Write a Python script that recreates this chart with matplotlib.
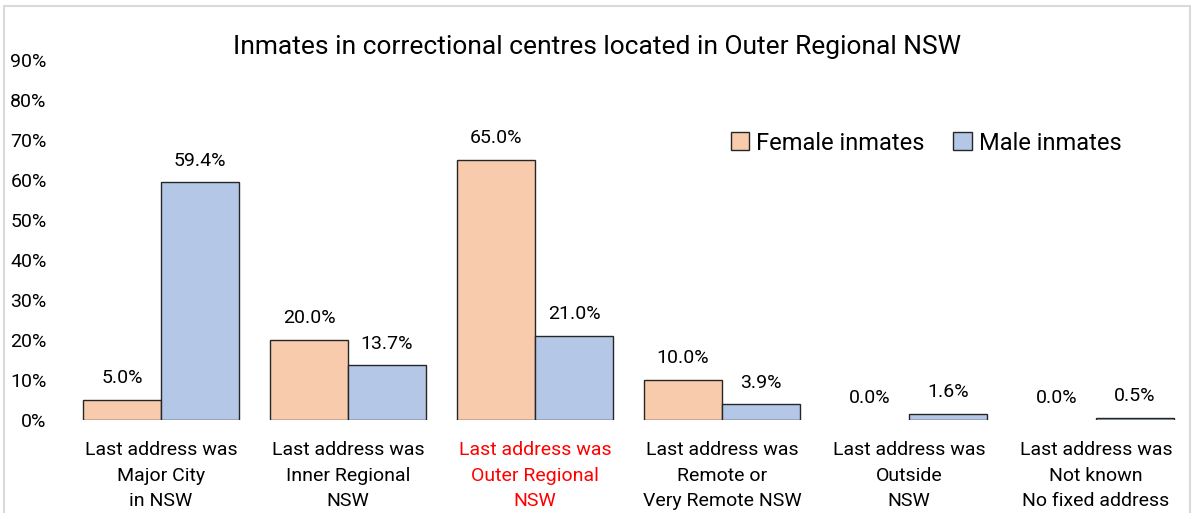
import matplotlib.pyplot as plt
import matplotlib.patches as mpatches
import numpy as np

categories = ['Last address was\nMajor City\nin NSW',
              'Last address was\nInner Regional\nNSW',
              'Last address was\nOuter Regional\nNSW',
              'Last address was\nRemote or\nVery Remote NSW',
              'Last address was\nOutside\nNSW',
              'Last address was\nNot known\nNo fixed address']
female = [0.050, 0.200, 0.650, 0.100, 0.000, 0.000]
male = [0.594, 0.137, 0.210, 0.039, 0.016, 0.005]
yticks = [0, 0.1, 0.2, 0.3, 0.4, 0.5, 0.6, 0.7, 0.8, 0.9]

plt.rcParams['font.family'] = ['Roboto', 'DejaVu Sans']

fig = plt.figure(figsize=(11.92, 5.13), dpi=100)
ax = fig.add_axes([0.0566, 0.1813, 0.9413, 0.7018])

x = np.arange(len(categories))
w = 0.417
b1 = ax.bar(x - w / 2, female, w, color='#F8CBAD', edgecolor='#262626', linewidth=1, label='Female inmates')
b2 = ax.bar(x + w / 2, male, w, color='#B4C7E7', edgecolor='#262626', linewidth=1, label='Male inmates')

for bars, vals in ((b1, female), (b2, male)):
    for rect, v in zip(bars, vals):
        if v == 0:
            rect.set_linewidth(0)
        ax.annotate(f'{v * 100:.1f}%', (rect.get_x() + rect.get_width() / 2, v),
                    xytext=(0, 9), textcoords='offset points',
                    ha='center', va='bottom', fontsize=14)

ax.set_xlim(-0.5, len(categories) - 0.5)
ax.set_ylim(0, 0.9)
ax.set_yticks(yticks)
ax.set_yticklabels([f'{int(round(t * 100))}%' for t in yticks], fontsize=14)
ax.set_xticks(x)
ax.set_xticklabels(categories, fontsize=14, linespacing=1.55)
ax.get_xticklabels()[2].set_color('#FF0000')
ax.tick_params(length=0)
ax.tick_params(axis='y', pad=15)
ax.tick_params(axis='x', pad=15)
for s in ax.spines.values():
    s.set_visible(False)

ax.legend(loc='upper left', bbox_to_anchor=(0.572, 0.86), ncol=2, frameon=False,
          fontsize=17, handlelength=0.8, handleheight=0.8, handletextpad=0.3,
          columnspacing=1.2)

fig.text(0.501, 0.908, 'Inmates in correctional centres located in Outer Regional NSW',
         ha='center', va='center', fontsize=19)

fig.patches.append(mpatches.Rectangle((4 / 1192, -0.05), 1186 / 1192, 1.0383,
                                      transform=fig.transFigure, fill=False,
                                      edgecolor='#d9d9d9', linewidth=1.5))

fig.savefig('out.png', dpi=100)
